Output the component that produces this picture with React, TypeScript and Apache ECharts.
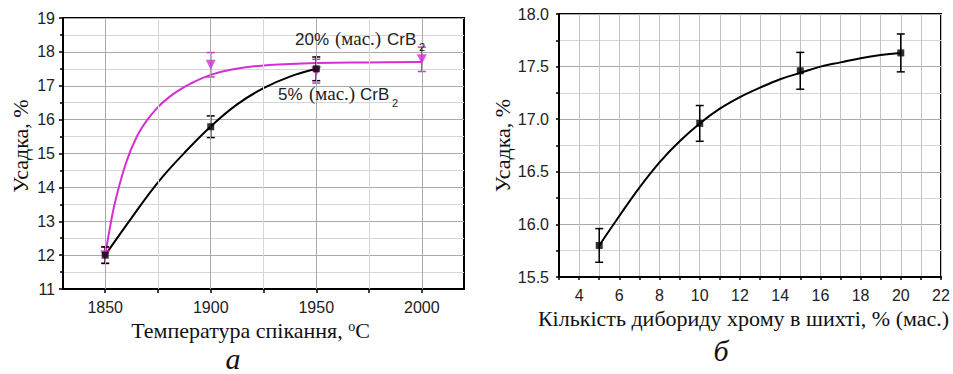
import React, { useEffect, useRef } from "react";
import * as echarts from "echarts";

// ---------- Chart a: shrinkage vs sintering temperature ----------
const tempTickValues = [1850, 1875, 1900, 1925, 1950, 1975, 2000];
const tempLabelValues = [1850, 1900, 1950, 2000];

const temp5 = [1850, 1900, 1950];
const shrink5 = [12.0, 15.79, 17.5];
const shrink5Err = [0.24, 0.32, 0.35];

const temp20 = [1850, 1900, 1950, 2000];
const shrink20 = [12.0, 17.62, 17.43, 17.78];
const shrink20Err = [0.25, 0.36, 0.35, 0.36];

const fit5Temp = [1850, 1862.5, 1875, 1887.5, 1900, 1912.5, 1925, 1937.5, 1950];
const fit5Shrink = [12.0, 13.1, 14.15, 15.02, 15.8, 16.45, 16.93, 17.27, 17.5];

const fit20Temp = [1850, 1852.5, 1855, 1860, 1865, 1870, 1875, 1880, 1885, 1890, 1900, 1910, 1925, 1950, 1975, 2000];
const fit20Shrink = [12.0, 12.9, 13.65, 14.75, 15.5, 16.0, 16.37, 16.65, 16.87, 17.05, 17.32, 17.48, 17.6, 17.67, 17.69, 17.7];

// ---------- Chart б: shrinkage vs CrB2 content ----------
const content = [5, 10, 15, 20];
const shrinkB = [15.8, 16.96, 17.46, 17.63];
const shrinkBErr = [0.16, 0.17, 0.175, 0.18];

const fitBContent = [5, 6, 7, 8, 9, 10, 11, 12, 13, 14, 15, 16, 17, 18, 19, 20];
const fitBShrink = [15.8, 16.08, 16.35, 16.59, 16.79, 16.96, 17.1, 17.21, 17.3, 17.38, 17.44, 17.5, 17.54, 17.58, 17.61, 17.63];

const SERIF = '"Liberation Serif", "Times New Roman", serif';
const SANS = '"Liberation Sans", Arial, sans-serif';
const MAGENTA = "#d42fd4";
const MAJOR_GRID = "#a9a9a9";
const MINOR_GRID = "#d6d6d6";
const TEXT = "#222";

function zip(xs: number[], ys: number[]) {
  return xs.map((x, i) => [x, ys[i]]);
}

function errorBars(xIdx: number, xs: number[], ys: number[], errs: number[], color: string, z: number) {
  return {
    type: "custom",
    xAxisIndex: xIdx,
    yAxisIndex: xIdx,
    z,
    silent: true,
    data: xs.map((x, i) => [x, ys[i], errs[i]]),
    encode: { x: 0, y: 1 },
    renderItem: (_params: any, api: any) => {
      const x = api.value(0);
      const y = api.value(1);
      const e = api.value(2);
      const top = api.coord([x, y + e]);
      const bot = api.coord([x, y - e]);
      const hw = 4;
      const style = { stroke: color, lineWidth: 1.5 };
      return {
        type: "group",
        children: [
          { type: "line", shape: { x1: top[0], y1: top[1], x2: bot[0], y2: bot[1] }, style },
          { type: "line", shape: { x1: top[0] - hw, y1: top[1], x2: top[0] + hw, y2: top[1] }, style },
          { type: "line", shape: { x1: bot[0] - hw, y1: bot[1], x2: bot[0] + hw, y2: bot[1] }, style },
        ],
      };
    },
  };
}

function txt(text: string, x: number, y: number, family: string, size: number) {
  return {
    type: "text",
    x,
    y,
    z: 10,
    silent: true,
    style: { text, fontFamily: family, fontSize: size, fill: TEXT, verticalAlign: "middle", align: "left" },
  };
}

export default function App() {
  const ref = useRef<HTMLDivElement>(null);

  useEffect(() => {
    if (!ref.current) return;
    const chart = echarts.init(ref.current, undefined, { renderer: "svg" });

    const labelStyle = { fontFamily: SANS, fontSize: 16, color: TEXT };
    const nameStyle = { fontFamily: SERIF, fontSize: 22, color: "#111" };
    const axisLine = { show: true, onZero: false, lineStyle: { color: "#000", width: 2 } };

    const option: any = {
      animation: false,
      backgroundColor: "#fff",
      grid: [
        { left: 63, top: 18, width: 401, height: 271, show: true, borderColor: "#000", borderWidth: 2, backgroundColor: "transparent" },
        { left: 559, top: 14, width: 382, height: 263, show: true, borderColor: "#000", borderWidth: 2, backgroundColor: "transparent" },
      ],
      xAxis: [
        {
          gridIndex: 0,
          type: "value",
          min: 1830,
          max: 2020,
          axisLine,
          axisTick: { show: true, customValues: tempTickValues, length: 4, lineStyle: { color: "#000", width: 1.5 } },
          axisLabel: { customValues: tempLabelValues, margin: 10, ...labelStyle, formatter: (v: number) => String(v) },
          splitLine: { show: false },
          name: "Температура спікання, {sup|o}C",
          nameLocation: "middle",
          nameGap: 30,
          nameTextStyle: {
            ...nameStyle,
            padding: [0, 26, 0, 0],
            rich: { sup: { fontFamily: SERIF, fontSize: 14, color: "#111", verticalAlign: "top", lineHeight: 14 } },
          },
        },
        {
          gridIndex: 1,
          type: "value",
          min: 3,
          max: 22,
          interval: 1,
          axisLine,
          axisTick: { show: true, length: 3, lineStyle: { color: "#000", width: 1.5 } },
          axisLabel: {
            margin: 10,
            ...labelStyle,
            formatter: (v: number) => (v % 2 === 0 ? String(v) : ""),
          },
          splitLine: { show: true, lineStyle: { color: "#c2c2c2", width: 1 } },
          name: "Кількість дибориду хрому в шихті, % (мас.)",
          nameLocation: "middle",
          nameGap: 30,
          nameTextStyle: { ...nameStyle, padding: [0, 13, 0, 0] },
        },
      ],
      yAxis: [
        {
          gridIndex: 0,
          type: "value",
          min: 11,
          max: 19,
          interval: 1,
          axisLine,
          axisTick: { show: true, length: 4, lineStyle: { color: "#000", width: 1.5 } },
          minorTick: { show: true, splitNumber: 2, length: 3, lineStyle: { color: "#000", width: 1.5 } },
          axisLabel: { margin: 8, ...labelStyle },
          splitLine: { show: true, lineStyle: { color: MAJOR_GRID, width: 1 } },
          minorSplitLine: { show: true, lineStyle: { color: MINOR_GRID, width: 1 } },
          name: "Усадка, %",
          nameLocation: "middle",
          nameGap: 32,
          nameTextStyle: { ...nameStyle, padding: [0, 0, 0, 15] },
        },
        {
          gridIndex: 1,
          type: "value",
          min: 15.5,
          max: 18,
          interval: 0.5,
          axisLine,
          axisTick: { show: true, length: 3, lineStyle: { color: "#000", width: 1.5 } },
          minorTick: { show: true, splitNumber: 2, length: 3, lineStyle: { color: "#000", width: 1.5 } },
          axisLabel: { margin: 10, ...labelStyle, formatter: (v: number) => v.toFixed(1) },
          splitLine: { show: true, lineStyle: { color: MAJOR_GRID, width: 1 } },
          minorSplitLine: { show: true, lineStyle: { color: MINOR_GRID, width: 1 } },
          name: "Усадка, %",
          nameLocation: "middle",
          nameGap: 43,
          nameTextStyle: { ...nameStyle },
        },
      ],
      series: [
        // vertical grid lines for chart a
        {
          type: "line",
          xAxisIndex: 0,
          yAxisIndex: 0,
          data: [],
          z: 1,
          silent: true,
          markLine: {
            silent: true,
            symbol: ["none", "none"],
            label: { show: false },
            data: tempTickValues.map((v) => ({
              xAxis: v,
              lineStyle: { color: v % 50 === 0 ? MAJOR_GRID : MINOR_GRID, width: 1, type: "solid" },
            })),
          },
        },
        {
          type: "line",
          xAxisIndex: 0,
          yAxisIndex: 0,
          data: zip(fit20Temp, fit20Shrink),
          smooth: 0.4,
          showSymbol: false,
          silent: true,
          z: 3,
          lineStyle: { color: MAGENTA, width: 2 },
        },
        {
          type: "line",
          xAxisIndex: 0,
          yAxisIndex: 0,
          data: zip(fit5Temp, fit5Shrink),
          smooth: 0.4,
          showSymbol: false,
          silent: true,
          z: 3,
          lineStyle: { color: "#000", width: 2 },
        },
        errorBars(0, temp20, shrink20, shrink20Err, MAGENTA, 4),
        errorBars(0, temp5, shrink5, shrink5Err, "#000", 4),
        {
          type: "scatter",
          xAxisIndex: 0,
          yAxisIndex: 0,
          data: zip(temp20, shrink20),
          symbol: "triangle",
          symbolRotate: 180,
          symbolSize: 10,
          z: 5,
          itemStyle: { color: MAGENTA },
        },
        {
          type: "scatter",
          xAxisIndex: 0,
          yAxisIndex: 0,
          data: zip(temp5, shrink5),
          symbol: "rect",
          symbolSize: 7,
          z: 6,
          itemStyle: { color: "#000" },
        },
        // chart б
        {
          type: "line",
          xAxisIndex: 1,
          yAxisIndex: 1,
          data: zip(fitBContent, fitBShrink),
          smooth: 0.4,
          showSymbol: false,
          silent: true,
          z: 3,
          lineStyle: { color: "#000", width: 2 },
        },
        errorBars(1, content, shrinkB, shrinkBErr, "#000", 4),
        {
          type: "scatter",
          xAxisIndex: 1,
          yAxisIndex: 1,
          data: zip(content, shrinkB),
          symbol: "rect",
          symbolSize: 7,
          z: 6,
          itemStyle: { color: "#000" },
        },
      ],
      graphic: [
        txt("20%", 295, 39, SANS, 17),
        txt("(мас.)", 335, 38.5, SERIF, 19),
        txt("CrB", 387, 39, SANS, 17),
        txt("2", 419, 47, SANS, 11),
        txt("5%", 278, 94, SANS, 17),
        txt("(мас.)", 309, 93.5, SERIF, 19),
        txt("CrB", 360, 94, SANS, 17),
        txt("2", 392, 103, SANS, 11),
        {
          type: "text",
          x: 233,
          y: 358,
          style: { text: "а", fontFamily: SERIF, fontStyle: "italic", fontSize: 30, fill: "#111", align: "center", verticalAlign: "middle" },
        },
        {
          type: "text",
          x: 721,
          y: 350,
          style: { text: "б", fontFamily: SERIF, fontStyle: "italic", fontSize: 30, fill: "#111", align: "center", verticalAlign: "middle" },
        },
      ],
    };

    chart.setOption(option);
    return () => chart.dispose();
  }, []);

  return (
    <div
      ref={ref}
      style={{ position: "fixed", left: 0, top: 0, width: 953, height: 374, background: "#fff" }}
    />
  );
}
